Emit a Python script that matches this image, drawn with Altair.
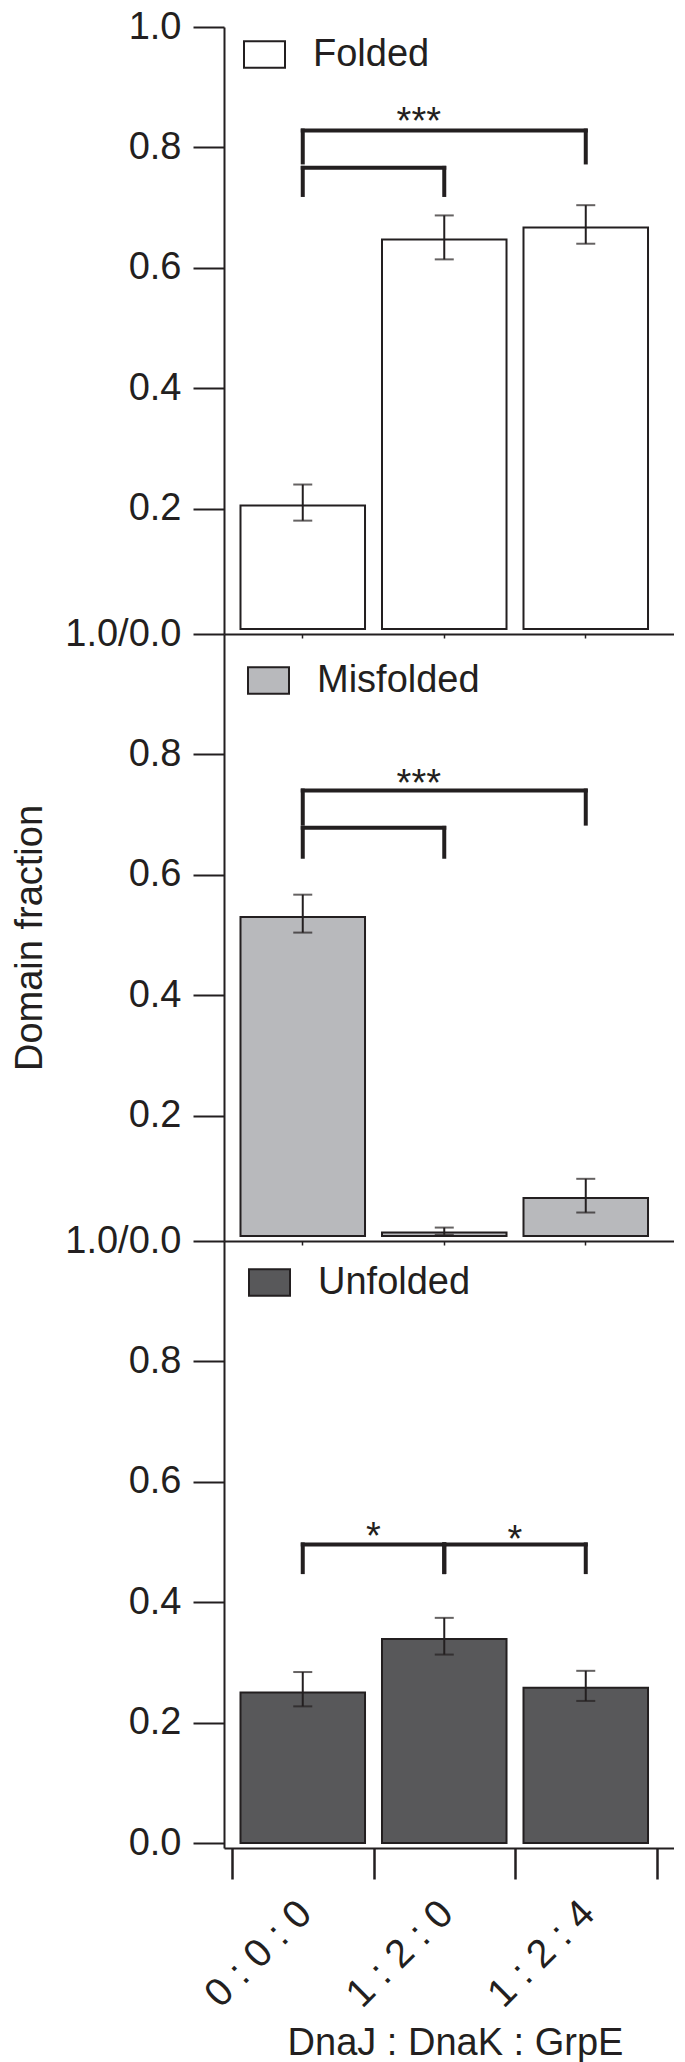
import altair as alt
import pandas as pd

# ---------------- data ----------------
categories = ["0 : 0 : 0", "1 : 2 : 0", "1 : 2 : 4"]

folded_mean = [0.205, 0.647, 0.667]
folded_low = [0.180, 0.614, 0.640]
folded_high = [0.240, 0.687, 0.704]

misfolded_mean = [0.530, 0.006, 0.063]
misfolded_low = [0.504, 0.002, 0.039]
misfolded_high = [0.567, 0.014, 0.095]

unfolded_mean = [0.250, 0.339, 0.258]
unfolded_low = [0.227, 0.313, 0.236]
unfolded_high = [0.284, 0.374, 0.286]

states = ["Folded", "Misfolded", "Unfolded"]
state_colors = ["#ffffff", "#b8b9bc", "#58585a"]

# significance brackets: (left group, right group, bracket level, left leg end, right leg end)
folded_brackets = [("0 : 0 : 0", "1 : 2 : 4", 0.828, 0.775, 0.775),
                   ("0 : 0 : 0", "1 : 2 : 0", 0.766, 0.721, 0.721)]
misfolded_brackets = [("0 : 0 : 0", "1 : 2 : 4", 0.740, 0.685, 0.685),
                      ("0 : 0 : 0", "1 : 2 : 0", 0.678, 0.630, 0.630)]
unfolded_brackets = [("0 : 0 : 0", "1 : 2 : 0", 0.496, 0.450, 0.450),
                     ("1 : 2 : 0", "1 : 2 : 4", 0.496, 0.450, 0.450)]

folded_stars = ["***"]
folded_star_groups = ["1 : 2 : 0"]
folded_star_y = [0.857]
misfolded_stars = ["***"]
misfolded_star_groups = ["1 : 2 : 0"]
misfolded_star_y = [0.765]
unfolded_stars = ["*", "*"]
unfolded_star_groups = ["0 : 0 : 0", "1 : 2 : 0"]
unfolded_star_y = [0.524, 0.518]

y_ticks_top = [0.2, 0.4, 0.6, 0.8, 1.0]
y_ticks_bottom = [0.0, 0.2, 0.4, 0.6, 0.8, 1.0]
y_domain = [-0.0083, 1.0]

x_title = "DnaJ : DnaK : GrpE"
y_title = "Domain fraction"

# ---------------- style ----------------
FONT = "Liberation Sans"
INK = "#231f20"
W, H = 450, 607
RECT_PATH = "M-1,-0.65H1V0.65H-1Z"
LABEL_EXPR = "datum.value == 1 ? '1.0/0.0' : format(datum.value, '.1f')"

xs = alt.Scale(domain=categories, paddingInner=0, paddingOuter=0.0901, align=0.314)
ys = alt.Scale(domain=y_domain, nice=False)

yax_style = dict(domainColor=INK, domainWidth=2, tickColor=INK, tickWidth=2, tickSize=31,
                 labelFontSize=38, labelColor=INK, labelPadding=12, grid=False, labelFont=FONT)

y_axis_1 = alt.Axis(values=y_ticks_top, format=".1f", title=None, **yax_style)
y_axis_2 = alt.Axis(values=y_ticks_top, labelExpr=LABEL_EXPR, title=y_title, titleFontSize=38,
                    titleFont=FONT, titleFontWeight="normal", titleColor=INK, titlePadding=15,
                    **yax_style)
y_axis_3 = alt.Axis(values=y_ticks_bottom, labelExpr=LABEL_EXPR, title=None, **yax_style)

x_axis_inner = alt.Axis(labels=False, title=None, domainColor=INK, domainWidth=2,
                        tickColor=INK, tickSize=4, tickWidth=1.5, grid=False)
x_axis_bottom = alt.Axis(title=x_title, tickBand="extent", tickSize=31, tickWidth=2.5,
                         tickColor=INK, domainColor=INK, domainWidth=2, grid=False,
                         labelAngle=-45, labelAlign="right", labelBaseline="middle",
                         labelPadding=28, labelOffset=2, labelFontSize=39.5, labelColor=INK,
                         labelFont=FONT, titleFont=FONT, titleFontSize=38,
                         titleFontWeight="normal", titleColor=INK, titlePadding=11,
                         titleX=231)


def panel(state, color, mean, low, high, brackets, stars, star_groups, star_y, star_band,
          y_axis, x_axis, legend_x, legend_y):
    df = pd.DataFrame({"group": categories, "value": mean, "low": low, "high": high,
                       "state": [state] * len(categories)})
    bdf = pd.DataFrame(brackets, columns=["left", "right", "top", "lend", "rend"])
    sdf = pd.DataFrame({"text": stars, "group": star_groups, "y": star_y})

    def X(field, **kw):
        return alt.X(field, scale=xs, axis=x_axis, **kw)

    def Y(field):
        return alt.Y(field, scale=ys, axis=y_axis)

    bars = alt.Chart(df).mark_bar(stroke=INK, strokeWidth=2, width={"band": 0.88}).encode(
        x=X("group:N"),
        y=Y("value:Q"),
        color=alt.Color("state:N", scale=alt.Scale(domain=[state], range=[color]),
                        legend=alt.Legend(orient="none", legendX=legend_x, legendY=legend_y,
                                          title=None, symbolType=RECT_PATH, symbolSize=1681,
                                          symbolStrokeColor=INK, symbolStrokeWidth=2,
                                          labelFontSize=38, labelFont=FONT, labelColor=INK,
                                          labelOffset=27, labelLimit=400, padding=0,
                                          symbolOpacity=1)),
    )
    err = alt.Chart(df).mark_rule(color=INK, strokeWidth=2).encode(
        x=X("group:N"), y=Y("low:Q"), y2="high:Q")
    cap_lo = alt.Chart(df).mark_tick(color=INK, size=19, thickness=2).encode(
        x=X("group:N"), y=Y("low:Q"))
    cap_hi = alt.Chart(df).mark_tick(color=INK, size=19, thickness=2).encode(
        x=X("group:N"), y=Y("high:Q"))
    br_h = alt.Chart(bdf).mark_rule(color=INK, strokeWidth=4, strokeCap="square").encode(
        x=X("left:N"), x2="right:N", y=Y("top:Q"))
    br_l = alt.Chart(bdf).mark_rule(color=INK, strokeWidth=4, strokeCap="square").encode(
        x=X("left:N"), y=Y("top:Q"), y2="lend:Q")
    br_r = alt.Chart(bdf).mark_rule(color=INK, strokeWidth=4, strokeCap="square").encode(
        x=X("right:N"), y=Y("top:Q"), y2="rend:Q")
    txt = alt.Chart(sdf).mark_text(font=FONT, fontSize=38, color=INK, baseline="alphabetic",
                                   dy=21).encode(
        x=X("group:N", bandPosition=star_band), y=Y("y:Q"), text="text:N")
    return alt.layer(bars, err, cap_lo, cap_hi, br_h, br_l, br_r, txt).properties(width=W, height=H)


p1 = panel(states[0], state_colors[0], folded_mean, folded_low, folded_high, folded_brackets,
           folded_stars, folded_star_groups, folded_star_y, 0.32, y_axis_1, x_axis_inner, 19, 6)
p2 = panel(states[1], state_colors[1], misfolded_mean, misfolded_low, misfolded_high,
           misfolded_brackets, misfolded_stars, misfolded_star_groups, misfolded_star_y, 0.32,
           y_axis_2, x_axis_inner, 23, 25)
p3 = panel(states[2], state_colors[2], unfolded_mean, unfolded_low, unfolded_high,
           unfolded_brackets, unfolded_stars, unfolded_star_groups, unfolded_star_y, 1.0,
           y_axis_3, x_axis_bottom, 24, 20)

chart = alt.vconcat(p1, p2, p3, spacing=0, bounds="flush").resolve_scale(
    color="independent"
).properties(
    background="white",
    padding={"top": 0, "left": 3, "right": 0, "bottom": 0},
).configure_view(stroke=None)

chart.save("out.html", embed_options={"renderer": "svg", "actions": False})
